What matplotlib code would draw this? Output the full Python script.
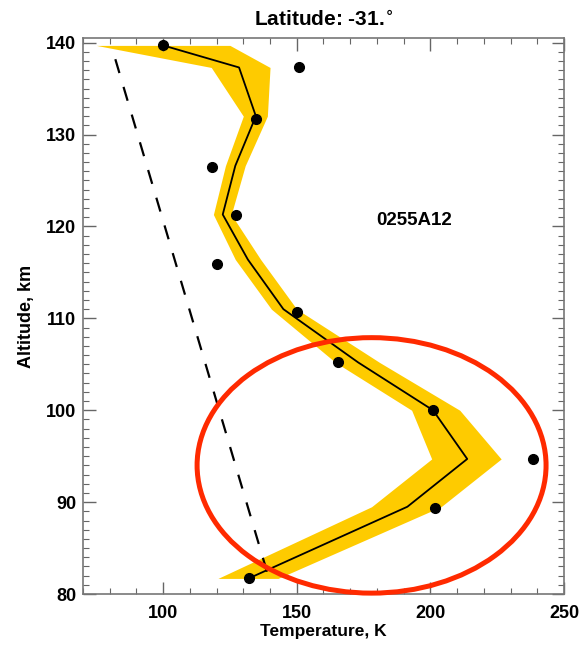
import numpy as np
import matplotlib
matplotlib.use("Agg")
import matplotlib.pyplot as plt
from matplotlib.patches import Ellipse
from matplotlib.ticker import MultipleLocator

plt.rcParams['font.family'] = ['Liberation Sans', 'DejaVu Sans']
plt.rcParams['font.weight'] = 'bold'

# retrieved profile with its uncertainty band
prof_alt = [139.7, 137.3, 132.0, 126.6, 121.3, 116.4, 111.0, 105.2, 100.0, 94.7, 89.5, 81.7]
prof_t = [100.0, 128.4, 134.7, 127.0, 122.3, 131.7, 145.0, 173.0, 201.0, 213.8, 191.4, 132.0]
band_lo = [75.0, 118.0, 130.0, 123.3, 118.8, 127.0, 140.5, 164.5, 193.0, 200.5, 178.0, 120.5]
band_hi = [125.0, 140.0, 139.0, 130.7, 125.5, 136.5, 150.0, 181.0, 211.0, 226.5, 204.0, 143.0]

# individual measurements
dot_alt = [139.7, 137.3, 131.7, 126.5, 121.2, 115.9, 110.7, 105.2, 100.0, 94.7, 89.4, 81.7]
dot_t = [100.0, 151.0, 134.7, 118.3, 127.2, 120.2, 150.0, 165.3, 201.0, 238.5, 201.8, 132.0]

# model reference (dashed)
ref_alt = [138.2, 81.7]
ref_t = [82.1, 139.6]

fig = plt.figure(figsize=(5.82, 6.45), dpi=100)
ax = fig.add_axes([0.1426, 0.079, 0.8264, 0.862])

ax.fill_betweenx(prof_alt, band_lo, band_hi, color='#fecb00', linewidth=0, zorder=1)
ax.plot(prof_t, prof_alt, color='black', lw=1.3, zorder=3)
ax.plot(dot_t, dot_alt, 'o', color='black', ms=7, zorder=4)
ax.plot(ref_t, ref_alt, color='black', lw=1.6, linestyle=(0, (6.5, 6.5)), zorder=2)

ax.text(194, 120.6, '0255A12', ha='center', va='center', fontsize=13.5, fontweight='bold')

ell = Ellipse((178, 94.0), 130.6, 27.8, fill=False, edgecolor='#ff2a00', lw=3.6,
              clip_on=False, zorder=5)
ax.add_patch(ell)

ax.set_xlim(70, 250)
ax.set_ylim(80, 140.5)
ax.xaxis.set_major_locator(MultipleLocator(50))
ax.xaxis.set_minor_locator(MultipleLocator(10))
ax.yaxis.set_major_locator(MultipleLocator(10))
ax.yaxis.set_minor_locator(MultipleLocator(1))
ax.tick_params(which='both', direction='in', top=True, right=True, color='#666666',
               labelsize=13)
ax.tick_params(axis='x', which='major', pad=8)
ax.tick_params(axis='y', which='major', pad=5)
ax.tick_params(which='major', length=9, width=1)
ax.tick_params(which='minor', length=4, width=0.8)
for lab in ax.get_xticklabels() + ax.get_yticklabels():
    lab.set_fontweight('bold')
for s in ax.spines.values():
    s.set_color('#777777')
    s.set_linewidth(1.2)

ax.set_xlabel('Temperature, K', fontsize=12.5, fontweight='bold', labelpad=1)
ax.set_ylabel('Altitude, km', fontsize=13, fontweight='bold', labelpad=8)
ax.set_title('Latitude: -31.$^{\\circ}$', fontsize=15, fontweight='bold', pad=9)

fig.savefig('out.png', dpi=100)
